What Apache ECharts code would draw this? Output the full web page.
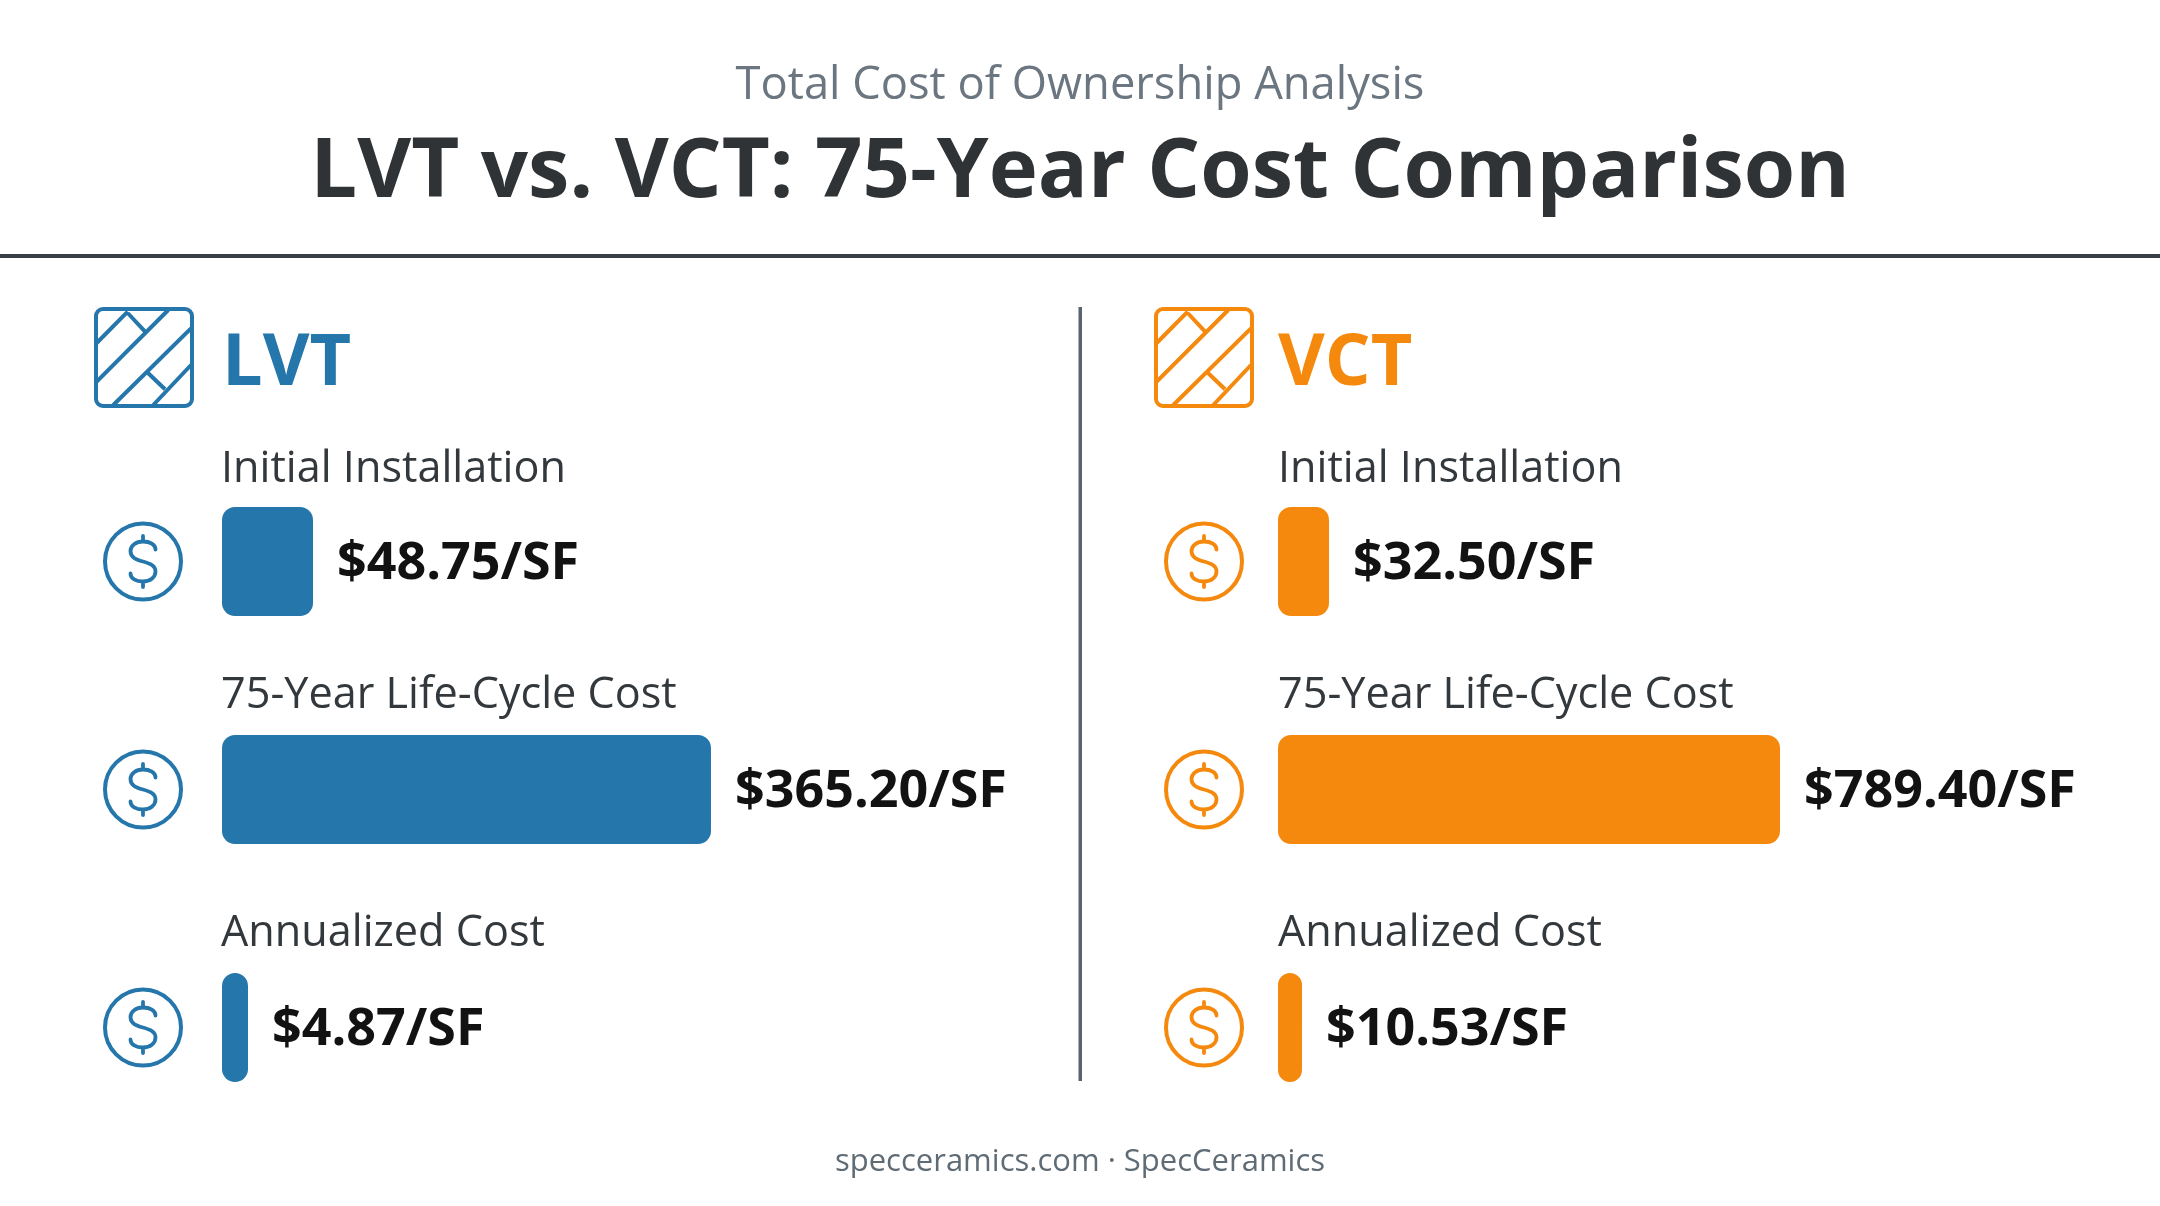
<!DOCTYPE html>
<html><head><meta charset="utf-8">
<style>html,body{margin:0;padding:0;background:#fff}#c{width:2160px;height:1206px}</style>
<script src="https://cdn.jsdelivr.net/npm/echarts@6/dist/echarts.min.js"></script>
</head><body><div id="c"></div>
<script>
const supertitle = "Total Cost of Ownership Analysis";
const mainTitle = "LVT vs. VCT: 75-Year Cost Comparison";
const footer = "specceramics.com · SpecCeramics";
const metrics = ["Initial Installation", "75-Year Life-Cycle Cost", "Annualized Cost"];
const products = ["LVT", "VCT"];
const lvtValues = [48.75, 365.20, 4.87];
const vctValues = [32.50, 789.40, 10.53];
// The source picture does not share one scale between its bars: each bar has its own axis range.
const lvtAxisMax = [273.2, 380.9, 95.5];
const vctAxisMax = [325, 802, 223.8];
const productColors = ["#2576ab", "#f5890d"];

const panelX = [222, 1278];
const labelX = [221, 1278];
const iconX = [94, 1154];
const dollarX = [143, 1204];
const rowLabelY = [470, 696, 934];
const barTop = [507, 735, 973];
const barH = 109;
const gridW = 510;

echarts.graphic.registerShape("dollarSign", echarts.graphic.extendPath(
  "M12.5 -12C12.5 -17 7 -20 0 -20C-7 -20 -12.5 -16 -12.5 -10.5C-12.5 -4 -7 -2 0 0C7 2 12.5 4 12.5 10C12.5 16 7 20 0 20C-7 20 -12.5 17 -12.5 12M0 -25.5L0 -20M0 20L0 25.5", {}));

const tileLines = [
  [2.7,36,33.7,4.7],[33.7,6,52,25.7],[2.7,74.7,74.3,3],
  [19.3,98,97,21.3],[52.7,64.7,71,82.3],[59.3,98,97,58]
];

const grid = [], xAxis = [], yAxis = [], series = [], graphic = [];

function text(x, y, t, size, weight, fill, align) {
  graphic.push({ type: "text", x, y, silent: true,
    style: { text: t, fontFamily: "Open Sans", fontSize: size, fontWeight: weight,
      fill, align: align || "left", verticalAlign: "middle" } });
}

text(1080, 86, supertitle, 45.3, 400, "#6b7680", "center");
text(1080, 173, mainTitle, 83.1, 700, "#303335", "center");
text(1080, 1162, footer, 31, 400, "#5f6b75", "center");
graphic.push({ type: "rect", shape: { x: 0, y: 254, width: 2160, height: 4 }, style: { fill: "#3a3f44" }, silent: true });
graphic.push({ type: "rect", shape: { x: 1078.5, y: 307, width: 3.5, height: 774 }, style: { fill: "#5a6470" }, silent: true });

products.forEach((name, p) => {
  const color = productColors[p];
  const values = p === 0 ? lvtValues : vctValues;
  const maxes = p === 0 ? lvtAxisMax : vctAxisMax;
  graphic.push({ type: "rect", x: iconX[p] + 2, y: 309, silent: true,
    shape: { x: 0, y: 0, width: 96, height: 97, r: 7 },
    style: { fill: "none", stroke: color, lineWidth: 4 } });
  tileLines.forEach(l => graphic.push({ type: "line", x: iconX[p], y: 307, silent: true,
    shape: { x1: l[0], y1: l[1], x2: l[2], y2: l[3] },
    style: { stroke: color, lineWidth: 4 } }));
  text(p === 0 ? 222 : 1278, 364, name, 72, 700, color);

  metrics.forEach((m, i) => {
    const idx = grid.length;
    text(labelX[p], rowLabelY[i], m, 43.2, 400, "#33383c");
    const cy = barTop[i] + barH / 2;
    graphic.push({ type: "circle", x: dollarX[p], y: cy, silent: true,
      shape: { cx: 0, cy: 0, r: 38 }, style: { fill: "none", stroke: color, lineWidth: 4 } });
    graphic.push({ type: "dollarSign", x: dollarX[p], y: cy, silent: true,
      style: { fill: "none", stroke: color, lineWidth: 3.8, lineCap: "round" } });

    grid.push({ left: panelX[p], top: barTop[i], width: gridW, height: barH, containLabel: false });
    xAxis.push({ type: "value", gridIndex: idx, min: 0, max: maxes[i], show: false });
    yAxis.push({ type: "category", gridIndex: idx, data: [m], show: false });
    series.push({
      type: "bar", name: name + " " + m, xAxisIndex: idx, yAxisIndex: idx,
      data: [values[i]], barWidth: "100%", silent: true, animation: false,
      itemStyle: { color, borderRadius: 13 },
      label: { show: true, position: "right", distance: 24, offset: [0, 3],
        formatter: o => "$" + o.value.toFixed(2) + "/SF",
        fontFamily: "Open Sans", fontWeight: 700, fontSize: 52, color: "#121212" }
    });
  });
});

const chart = echarts.init(document.getElementById("c"), null, { renderer: "canvas" });
chart.setOption({ backgroundColor: "#ffffff", animation: false, grid, xAxis, yAxis, series, graphic });
</script></body></html>
